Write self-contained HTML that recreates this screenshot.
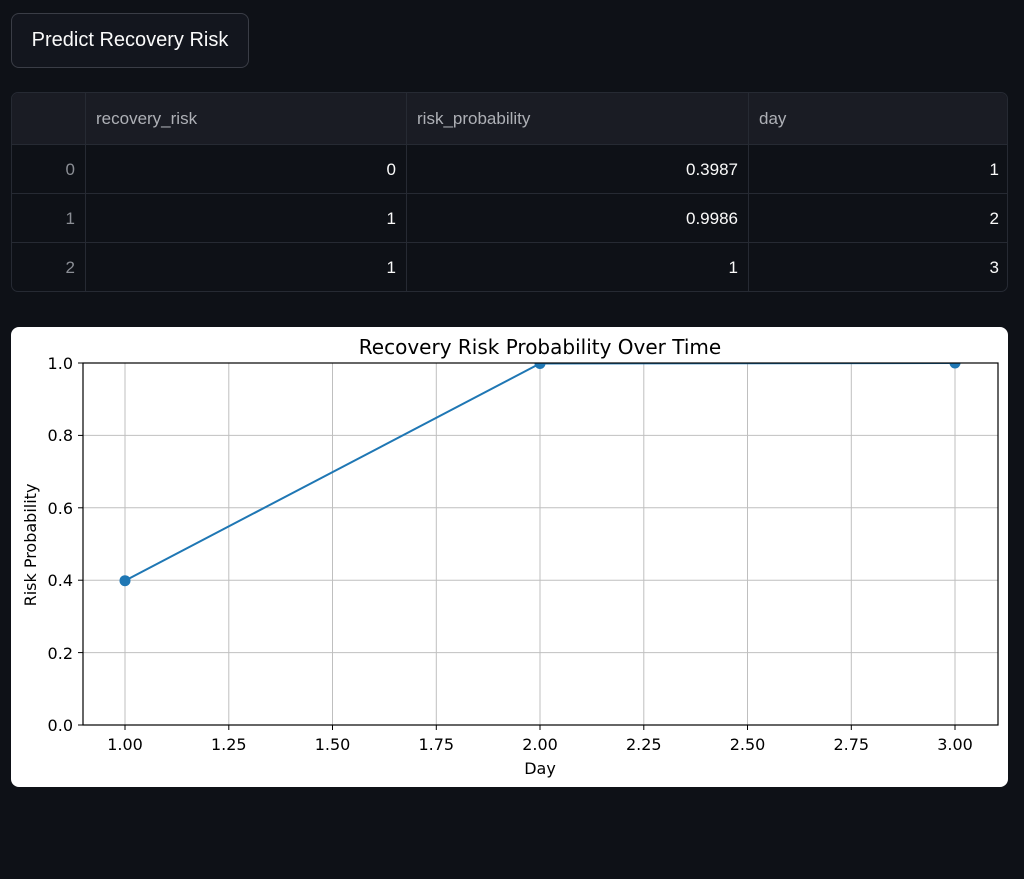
<!DOCTYPE html>
<html><head><style>
body{margin:0;width:1024px;height:879px;background:#0e1117;font-family:"Liberation Sans","Noto Sans CJK SC",sans-serif;position:relative;overflow:hidden}
.btn{position:absolute;left:11px;top:13px;width:238px;height:55px;border:1px solid #3a3d46;border-radius:8px;background:#13161e;color:#fafafa;font-size:20px;display:flex;align-items:center;justify-content:center;box-sizing:border-box}
.tbl{position:absolute;left:11px;top:92px;width:997px;height:200px;border:1px solid #262a33;border-radius:7px;overflow:hidden;box-sizing:border-box}
.row{position:absolute;left:0;width:100%;border-top:1px solid #262a33;height:49px}
.c{position:absolute;top:0;height:100%;display:flex;align-items:center;font-size:17px;border-left:1px solid #262a33;box-sizing:border-box;padding:0 10px}
.hd{color:#aeb0b6}
.num{justify-content:flex-end;color:#fafafa}
.idx{justify-content:flex-end;color:#8b8e95;border-left:none}
.card{position:absolute;left:11px;top:327px;width:997px;height:460px;background:#fff;border-radius:8px}
</style></head><body>
<div class="btn">Predict Recovery Risk</div>
<div class="tbl">
 <div class="row" style="top:0;height:51px;border-top:none;background:#1a1c24">
  <div class="c" style="left:0;width:73px;border-left:none"></div>
  <div class="c hd" style="left:73px;width:321px">recovery_risk</div>
  <div class="c hd" style="left:394px;width:342px">risk_probability</div>
  <div class="c hd" style="left:736px;width:261px">day</div>
 </div>
 <div class="row" style="top:51px">
  <div class="c idx" style="left:0;width:73px">0</div>
  <div class="c num" style="left:73px;width:321px">0</div>
  <div class="c num" style="left:394px;width:342px">0.3987</div>
  <div class="c num" style="left:736px;width:261px">1</div>
 </div>
 <div class="row" style="top:100px">
  <div class="c idx" style="left:0;width:73px">1</div>
  <div class="c num" style="left:73px;width:321px">1</div>
  <div class="c num" style="left:394px;width:342px">0.9986</div>
  <div class="c num" style="left:736px;width:261px">2</div>
 </div>
 <div class="row" style="top:149px">
  <div class="c idx" style="left:0;width:73px">2</div>
  <div class="c num" style="left:73px;width:321px">1</div>
  <div class="c num" style="left:394px;width:342px">1</div>
  <div class="c num" style="left:736px;width:261px">3</div>
 </div>
</div>
<div class="card"></div>
<svg style="position:absolute;left:0;top:0" width="1024" height="879" font-family="DejaVu Sans, sans-serif">
 <defs><clipPath id="ax"><rect x="83" y="363" width="915" height="362"/></clipPath></defs>
 <g stroke="#b0b0b0" stroke-width="1" opacity="0.8">
  <line x1="125" y1="363" x2="125" y2="725"/><line x1="228.8" y1="363" x2="228.8" y2="725"/>
  <line x1="332.5" y1="363" x2="332.5" y2="725"/><line x1="436.3" y1="363" x2="436.3" y2="725"/>
  <line x1="540" y1="363" x2="540" y2="725"/><line x1="643.8" y1="363" x2="643.8" y2="725"/>
  <line x1="747.5" y1="363" x2="747.5" y2="725"/><line x1="851.3" y1="363" x2="851.3" y2="725"/>
  <line x1="955" y1="363" x2="955" y2="725"/>
  <line x1="83" y1="435.4" x2="998" y2="435.4"/><line x1="83" y1="507.8" x2="998" y2="507.8"/>
  <line x1="83" y1="580.2" x2="998" y2="580.2"/><line x1="83" y1="652.6" x2="998" y2="652.6"/>
 </g>
 <g clip-path="url(#ax)">
  <polyline points="125,580.7 540,363.5 955,363" fill="none" stroke="#1f77b4" stroke-width="2"/>
  <circle cx="125" cy="580.7" r="5.5" fill="#1f77b4"/><circle cx="540" cy="363.5" r="5.5" fill="#1f77b4"/><circle cx="955" cy="363" r="5.5" fill="#1f77b4"/>
 </g>
 <rect x="83" y="363" width="915" height="362" fill="none" stroke="#000" stroke-width="1.2"/>
 <g stroke="#000" stroke-width="1">
  <line x1="125" y1="725" x2="125" y2="730"/><line x1="228.8" y1="725" x2="228.8" y2="730"/><line x1="332.5" y1="725" x2="332.5" y2="730"/><line x1="436.3" y1="725" x2="436.3" y2="730"/><line x1="540" y1="725" x2="540" y2="730"/><line x1="643.8" y1="725" x2="643.8" y2="730"/><line x1="747.5" y1="725" x2="747.5" y2="730"/><line x1="851.3" y1="725" x2="851.3" y2="730"/><line x1="955" y1="725" x2="955" y2="730"/>
  <line x1="78" y1="363" x2="83" y2="363"/><line x1="78" y1="435.4" x2="83" y2="435.4"/><line x1="78" y1="507.8" x2="83" y2="507.8"/><line x1="78" y1="580.2" x2="83" y2="580.2"/><line x1="78" y1="652.6" x2="83" y2="652.6"/><line x1="78" y1="725" x2="83" y2="725"/>
 </g>
 <g font-size="16" fill="#000" text-anchor="middle">
  <text x="125" y="750">1.00</text><text x="228.8" y="750">1.25</text><text x="332.5" y="750">1.50</text><text x="436.3" y="750">1.75</text><text x="540" y="750">2.00</text><text x="643.8" y="750">2.25</text><text x="747.5" y="750">2.50</text><text x="851.3" y="750">2.75</text><text x="955" y="750">3.00</text>
  <text x="540" y="774" font-size="16">Day</text>
  <text x="540" y="354" font-size="20">Recovery Risk Probability Over Time</text>
 </g>
 <g font-size="16" fill="#000" text-anchor="end">
  <text x="73" y="369">1.0</text><text x="73" y="441">0.8</text><text x="73" y="514">0.6</text><text x="73" y="586">0.4</text><text x="73" y="659">0.2</text><text x="73" y="731">0.0</text>
 </g>
 <text transform="translate(36,545) rotate(-90)" font-size="16" text-anchor="middle">Risk Probability</text>
</svg>
</body></html>
